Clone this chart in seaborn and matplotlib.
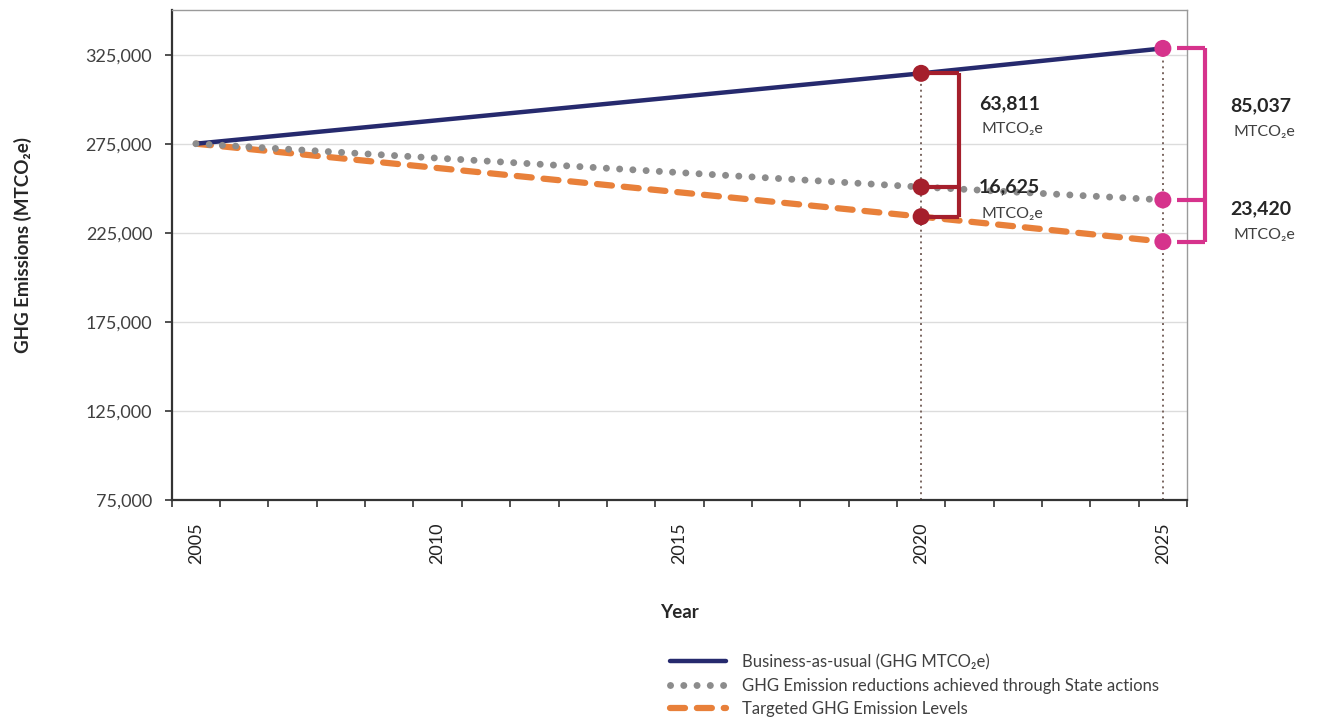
import numpy as np
import pandas as pd
import matplotlib
matplotlib.use("Agg")
import matplotlib.pyplot as plt
import seaborn as sns
from matplotlib.ticker import FixedLocator, FuncFormatter

# ---- data -------------------------------------------------------------
years = [2005, 2020, 2025]
bau = [275000, 314500, 328500]                 # business-as-usual emissions
gap_bau_state = [0, 63811, 85037]              # BAU minus State-action level
gap_state_target = [0, 16625, 23420]           # State-action level minus target
state = [b - g for b, g in zip(bau, gap_bau_state)]
target = [s - g for s, g in zip(state, gap_state_target)]

series_names = [
    "Business-as-usual (GHG MTCO\u2082e)",
    "GHG Emission reductions achieved through State actions",
    "Targeted GHG Emission Levels",
]
y_ticks = [75000, 125000, 175000, 225000, 275000, 325000]
x_tick_years = [2005, 2010, 2015, 2020, 2025]

df = pd.DataFrame({
    "Year": years * 3,
    "Emissions": bau + state + target,
    "Series": sum([[n] * len(years) for n in series_names], []),
})

# ---- style ------------------------------------------------------------
sns.set_theme(style="white")
plt.rcParams["font.family"] = ["Lato", "DejaVu Sans"]

NAVY = "#262a6e"
GREY = "#8c8c8c"
ORANGE = "#e8803a"
DARKRED = "#a51f2c"
PINK = "#d6338c"
DROP = "#7a6660"

fig, ax = plt.subplots(figsize=(13.21, 7.21), dpi=100)
fig.subplots_adjust(left=0.130, right=0.8986, top=0.986, bottom=0.3065)

ylo, yhi = 75000, 350000
ax.set_xlim(2004.5, 2025.5)
ax.set_ylim(ylo, yhi)

# horizontal gridlines
for v in y_ticks:
    ax.axhline(v, color="#dcdcdc", lw=1.0, zorder=0)

# dotted drop lines from the milestone years
for i in (1, 2):
    ax.plot([years[i], years[i]], [ylo, bau[i]], color=DROP, lw=1.4,
            ls=(0, (1, 2.0)), zorder=1)

# ---- the three emission paths ------------------------------------------
sub = df[df.Series == series_names[0]]
sns.lineplot(data=sub, x="Year", y="Emissions", color=NAVY, lw=3.2,
             ax=ax, label=series_names[0], zorder=3)
sub = df[df.Series == series_names[1]]
sns.lineplot(data=sub, x="Year", y="Emissions", color=GREY, lw=5.0,
             ls=(0, (0.01, 1.9)), dash_capstyle="round",
             ax=ax, label=series_names[1], zorder=3)
sub = df[df.Series == series_names[2]]
sns.lineplot(data=sub, x="Year", y="Emissions", color=ORANGE, lw=4.5,
             ls=(0, (2.4, 1.9)), dash_capstyle="round",
             ax=ax, label=series_names[2], zorder=2)

# ---- milestone markers ---------------------------------------------------
for i, col in ((1, DARKRED), (2, PINK)):
    sns.scatterplot(x=[years[i]] * 3, y=[bau[i], state[i], target[i]],
                    color=col, s=150, edgecolor="none", ax=ax,
                    zorder=6, legend=False, clip_on=False)

# ---- brackets with gap labels --------------------------------------------
brackets = [
    # index, colour, arm start, bracket x, text x, offsets (pts) for the two labels
    (1, DARKRED, 2020.0, 2020.79, 2021.2, [(19, 1), (10.5, -8.5)]),
    (2, PINK, 2025.3, 2025.87, 2026.4, [(13.5, -5.5), (8.5, -10.3)]),
]
for i, col, x0, xb, xt, offs in brackets:
    levels = [bau[i], state[i], target[i]]
    ax.plot([xb, xb], [levels[0], levels[2]], color=col, lw=3.0,
            solid_capstyle="butt", clip_on=False, zorder=4)
    for lv in levels:
        ax.plot([x0, xb], [lv, lv], color=col, lw=3.0,
                solid_capstyle="butt", clip_on=False, zorder=4)
    gaps = [gap_bau_state[i], gap_state_target[i]]
    for k, gap in enumerate(gaps):
        mid = (levels[k] + levels[k + 1]) / 2
        dn, du = offs[k]
        ax.annotate(f"{gap:,}", xy=(xt, mid), xytext=(0, dn),
                    textcoords="offset points", ha="left", va="center",
                    fontsize=14, fontweight="bold", color="#262626",
                    annotation_clip=False, zorder=7)
        ax.annotate("MTCO\u2082e", xy=(xt, mid), xytext=(2, du),
                    textcoords="offset points", ha="left", va="center",
                    fontsize=11.5, color="#404040",
                    annotation_clip=False, zorder=7)

# ---- axes -----------------------------------------------------------------
ax.yaxis.set_major_locator(FixedLocator(y_ticks))
ax.yaxis.set_major_formatter(FuncFormatter(lambda v, p: f"{v:,.0f}"))
ax.tick_params(axis="y", which="major", direction="out", length=5, width=1.2,
               color="#333333", pad=9, labelsize=13, labelcolor="#404040",
               left=True)

ax.xaxis.set_major_locator(FixedLocator(x_tick_years))
ax.xaxis.set_major_formatter(FuncFormatter(lambda v, p: f"{int(v)}"))
ax.xaxis.set_minor_locator(FixedLocator(np.arange(2004.5, 2026.0, 1.0)))
ax.tick_params(axis="x", which="major", length=0, pad=16, labelsize=13,
               labelcolor="#222222", labelrotation=90)
ax.tick_params(axis="x", which="minor", direction="out", length=5, width=1.2,
               color="#333333", bottom=True)

for side in ("left", "bottom"):
    ax.spines[side].set_color("#333333")
    ax.spines[side].set_linewidth(1.6)
for side in ("top", "right"):
    ax.spines[side].set_color("#9a9a9a")
    ax.spines[side].set_linewidth(1.0)

ax.set_ylabel("GHG Emissions (MTCO\u2082e)", fontsize=13.5, fontweight="bold",
              color="#262626")
ax.yaxis.set_label_coords(-0.138, 0.52)
ax.set_xlabel("Year", fontsize=13.5, fontweight="bold", color="#262626")
ax.xaxis.set_label_coords(0.5, -0.212)

# ---- legend below the plot -------------------------------------------------
handles, labels = ax.get_legend_handles_labels()
ax.get_legend().remove()
fig.legend(handles, labels, loc="upper left", bbox_to_anchor=(0.507, 0.093),
           frameon=False, fontsize=12, handlelength=3.4, handletextpad=0.95,
           labelspacing=0.45, borderpad=0, borderaxespad=0,
           labelcolor="#404040")

fig.savefig("out.png", dpi=100)
